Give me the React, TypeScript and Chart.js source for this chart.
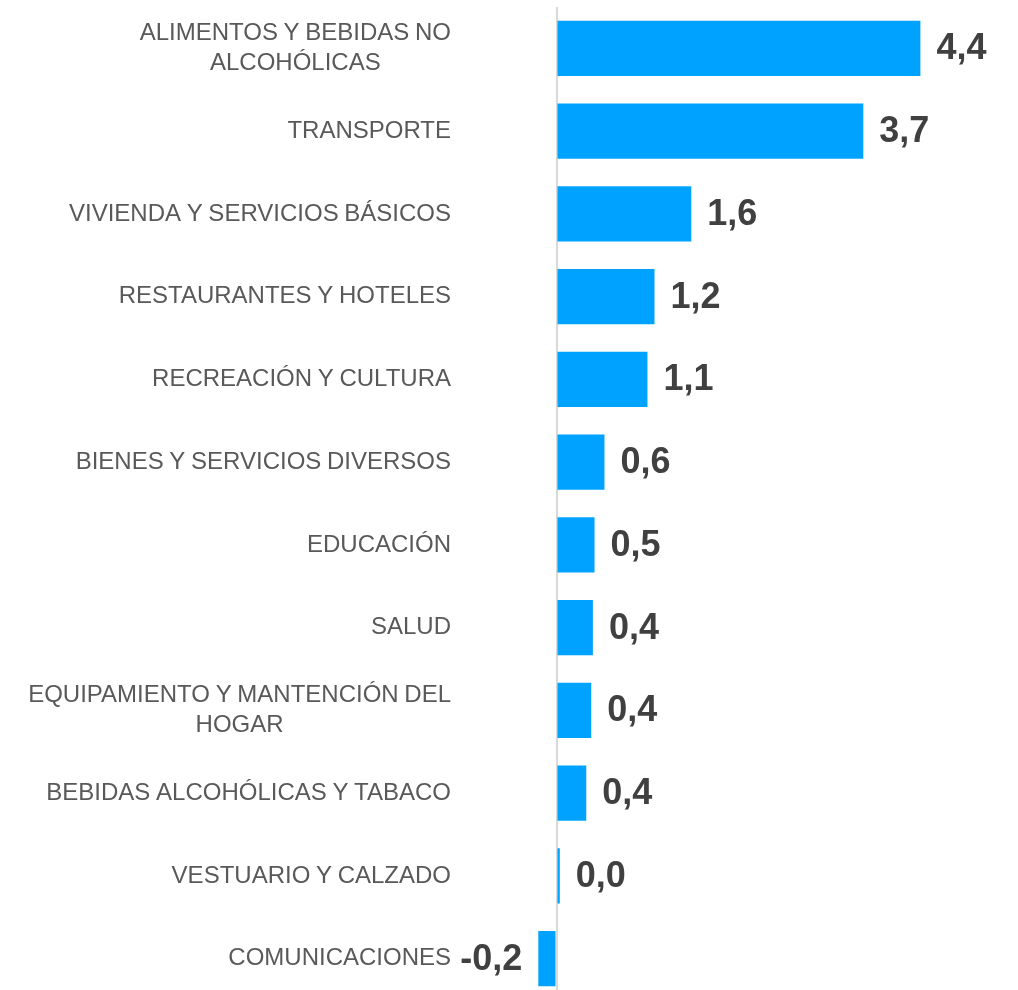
import React, { useEffect, useRef } from "react";
import { Chart, registerables } from "chart.js";

Chart.register(...registerables);

const categories: string[][] = [
  ["ALIMENTOS Y BEBIDAS NO", "ALCOHÓLICAS"],
  ["TRANSPORTE"],
  ["VIVIENDA Y SERVICIOS BÁSICOS"],
  ["RESTAURANTES Y HOTELES"],
  ["RECREACIÓN Y CULTURA"],
  ["BIENES Y SERVICIOS DIVERSOS"],
  ["EDUCACIÓN"],
  ["SALUD"],
  ["EQUIPAMIENTO Y MANTENCIÓN DEL", "HOGAR"],
  ["BEBIDAS ALCOHÓLICAS Y TABACO"],
  ["VESTUARIO Y CALZADO"],
  ["COMUNICACIONES"],
];

const values: number[] = [4.4, 3.71, 1.63, 1.185, 1.1, 0.58, 0.46, 0.44, 0.42, 0.36, 0.04, -0.22];

const BAR_COLOR = "#00A2FF";
const LABEL_FONT = "24px 'Liberation Sans', Arial, sans-serif";
const VALUE_FONT = "bold 36px 'Liberation Sans', Arial, sans-serif";

const fmt = (v: number) => v.toFixed(1).replace(".", ",");

const labelPlugin = {
  id: "customLabels",
  afterDraw(chart: any) {
    const ctx = chart.ctx as CanvasRenderingContext2D;
    const yScale = chart.scales.y;
    const xScale = chart.scales.x;
    ctx.save();
    // category labels
    ctx.font = LABEL_FONT;
    ctx.fillStyle = "#595959";
    ctx.textAlign = "center";
    ctx.textBaseline = "middle";
    try { (ctx as any).wordSpacing = "-1px"; } catch (e) {}
    const rightEdge = 451;
    const lineH = 30;
    categories.forEach((lines, i) => {
      const y = yScale.getPixelForValue(i);
      const maxW = Math.max(...lines.map((l) => ctx.measureText(l).width));
      const cx = rightEdge - maxW / 2;
      const startY = y - ((lines.length - 1) * lineH) / 2;
      lines.forEach((l, j) => ctx.fillText(l, cx, startY + j * lineH));
    });
    try { (ctx as any).wordSpacing = "0px"; } catch (e) {}
    // value labels
    ctx.font = VALUE_FONT;
    ctx.fillStyle = "#404040";
    values.forEach((v, i) => {
      const y = yScale.getPixelForValue(i);
      const x = xScale.getPixelForValue(v);
      if (v >= 0) {
        ctx.textAlign = "left";
        ctx.fillText(fmt(v), x + 16, y + 1);
      } else {
        ctx.textAlign = "right";
        ctx.fillText(fmt(v), x - 16, y + 1);
      }
    });
    ctx.restore();
  },
};

export default function App() {
  const ref = useRef<HTMLCanvasElement | null>(null);
  useEffect(() => {
    document.body.style.margin = "0";
    document.documentElement.style.overflow = "hidden";
    document.body.style.overflow = "hidden";
    const canvas = ref.current!;
    const chart = new Chart(canvas, {
      type: "bar",
      data: {
        labels: categories.map((c) => c.join(" ")),
        datasets: [
          {
            data: values,
            backgroundColor: BAR_COLOR,
            borderWidth: 0,
            barPercentage: 0.665,
            categoryPercentage: 1,
          },
        ],
      },
      options: {
        indexAxis: "y",
        responsive: false,
        animation: false,
        layout: { padding: { left: 473.8, right: 48, top: 7, bottom: 0 } },
        plugins: { legend: { display: false }, tooltip: { enabled: false } },
        scales: {
          x: {
            min: -1,
            max: 5,
            ticks: { display: false, stepSize: 1 },
            border: { display: false },
            grid: {
              drawTicks: false,
              lineWidth: 2,
              color: (c: any) => (c.tick && c.tick.value === 0 ? "#d9d9d9" : "rgba(0,0,0,0)"),
            },
          },
          y: {
            display: false,
            grid: { display: false },
          },
        },
      },
      plugins: [labelPlugin],
    });
    return () => chart.destroy();
  }, []);
  return <canvas ref={ref} width={1018} height={1000} style={{ display: "block" }} />;
}
